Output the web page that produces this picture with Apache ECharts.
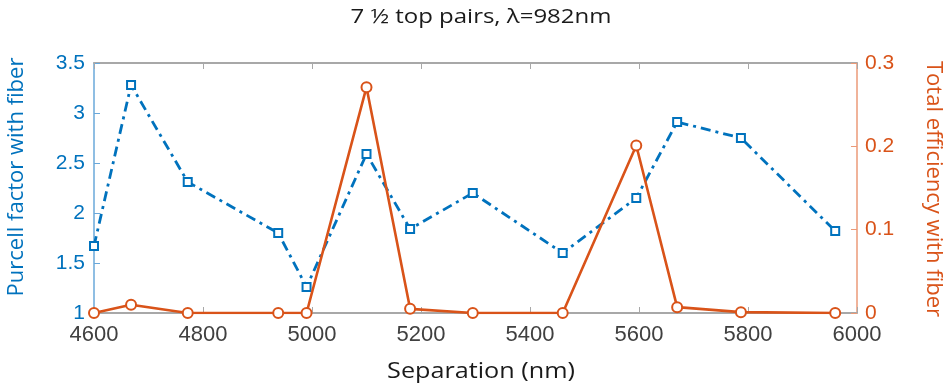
<!DOCTYPE html>
<html>
<head>
<meta charset="utf-8">
<script src="https://cdn.jsdelivr.net/npm/echarts@6/dist/echarts.min.js"></script>
<style>
  html, body { margin: 0; padding: 0; background: #fff; }
  #chart { width: 950px; height: 392px; }
</style>
</head>
<body>
<div id="chart"></div>
<script>
// Mirror separation (nm) for each simulated geometry
const separation = [4600, 4668, 4772, 4938, 4990, 5100, 5180, 5295, 5460, 5595, 5670, 5787, 5960];
// Purcell factor with fiber (left axis)
const purcell = [1.67, 3.28, 2.31, 1.80, 1.26, 2.59, 1.84, 2.20, 1.60, 2.15, 2.91, 2.75, 1.82];
// Total efficiency with fiber (right axis)
const efficiency = [0.0, 0.010, 0.0, 0.0, 0.0, 0.271, 0.005, 0.0, 0.0, 0.201, 0.007, 0.001, 0.0];

const xTicks = [4600, 4800, 5000, 5200, 5400, 5600, 5800, 6000];
const leftTicks = [1, 1.5, 2, 2.5, 3, 3.5];
const rightTicks = [0, 0.1, 0.2, 0.3];

const titleText = '7 ½ top pairs, λ=982nm';
const xName = 'Separation (nm)';
const leftName = 'Purcell factor with fiber';
const rightName = 'Total efficiency with fiber';

const BLUE = '#0072BD';
const ORANGE = '#D95319';
const tickFont = 'Liberation Sans, Arial, sans-serif';
const nameFont = '"Open Sans", "Noto Sans", sans-serif';

const pair = (xs, ys) => xs.map((x, i) => [x, ys[i]]);

const chart = echarts.init(document.getElementById('chart'), null, { renderer: 'canvas' });
chart.setOption({
  animation: false,
  backgroundColor: '#ffffff',
  grid: { left: 94, right: 93, top: 63, bottom: 79 },
  graphic: [{
    type: 'text', x: 481, y: 17, scaleX: 1.2,
    style: { text: titleText, font: '20px ' + nameFont, fill: '#1a1a1a', align: 'center', verticalAlign: 'middle' }
  }, {
    type: 'text', x: 481, y: 372, scaleX: 1.2,
    style: { text: xName, font: '21px ' + nameFont, fill: '#1a1a1a', align: 'center', verticalAlign: 'middle' }
  }, {
    type: 'text', x: 17, y: 177, rotation: Math.PI / 2,
    style: { text: leftName, font: '22px ' + nameFont, fill: BLUE, align: 'center', verticalAlign: 'middle' }
  }, {
    type: 'text', x: 933, y: 189, rotation: -Math.PI / 2,
    style: { text: rightName, font: '22px ' + nameFont, fill: ORANGE, align: 'center', verticalAlign: 'middle' }
  }],
  xAxis: [{
    type: 'value',
    min: xTicks[0], max: xTicks[xTicks.length - 1], interval: 200,
    axisLine: { lineStyle: { color: '#a8a8a8', width: 2 } },
    axisTick: { inside: true, length: 6, lineStyle: { color: '#a8a8a8' } },
    axisLabel: { fontFamily: tickFont, fontSize: 22, color: '#404040', margin: 11, formatter: v => String(v) },
    splitLine: { show: false }
  }, {
    type: 'value',
    position: 'top',
    min: xTicks[0], max: xTicks[xTicks.length - 1], interval: 200,
    axisLine: { lineStyle: { color: '#a8a8a8', width: 2 } },
    axisTick: { inside: true, length: 6, lineStyle: { color: '#a8a8a8' } },
    axisLabel: { show: false },
    splitLine: { show: false }
  }],
  yAxis: [{
    type: 'value',
    position: 'left',
    min: leftTicks[0], max: leftTicks[leftTicks.length - 1], interval: 0.5,
    axisLine: { show: true, lineStyle: { color: '#6aa8da', width: 1.5 } },
    axisTick: { show: true, inside: true, length: 6, lineStyle: { color: '#6aa8da' } },
    axisLabel: { fontFamily: tickFont, fontSize: 21, color: BLUE, margin: 9 },
    splitLine: { show: false }
  }, {
    type: 'value',
    position: 'right',
    min: rightTicks[0], max: rightTicks[rightTicks.length - 1], interval: 0.1,
    axisLine: { show: true, lineStyle: { color: '#eb9a78', width: 1.5 } },
    axisTick: { show: true, inside: true, length: 6, lineStyle: { color: '#eb9a78' } },
    axisLabel: { fontFamily: tickFont, fontSize: 21, color: ORANGE, margin: 8 },
    splitLine: { show: false }
  }],
  series: [{
    name: leftName,
    type: 'line',
    xAxisIndex: 0,
    yAxisIndex: 0,
    data: pair(separation, purcell),
    symbol: 'emptyRect',
    symbolSize: 8,
    lineStyle: { color: BLUE, width: 2.8, type: [10, 5, 3, 5] },
    itemStyle: { color: BLUE, borderColor: BLUE, borderWidth: 3 },
    z: 3
  }, {
    name: rightName,
    type: 'line',
    xAxisIndex: 0,
    yAxisIndex: 1,
    data: pair(separation, efficiency),
    symbol: 'emptyCircle',
    symbolSize: 10,
    lineStyle: { color: ORANGE, width: 2.6 },
    itemStyle: { color: ORANGE, borderColor: ORANGE, borderWidth: 2.4 },
    z: 4
  }]
});
</script>
</body>
</html>
